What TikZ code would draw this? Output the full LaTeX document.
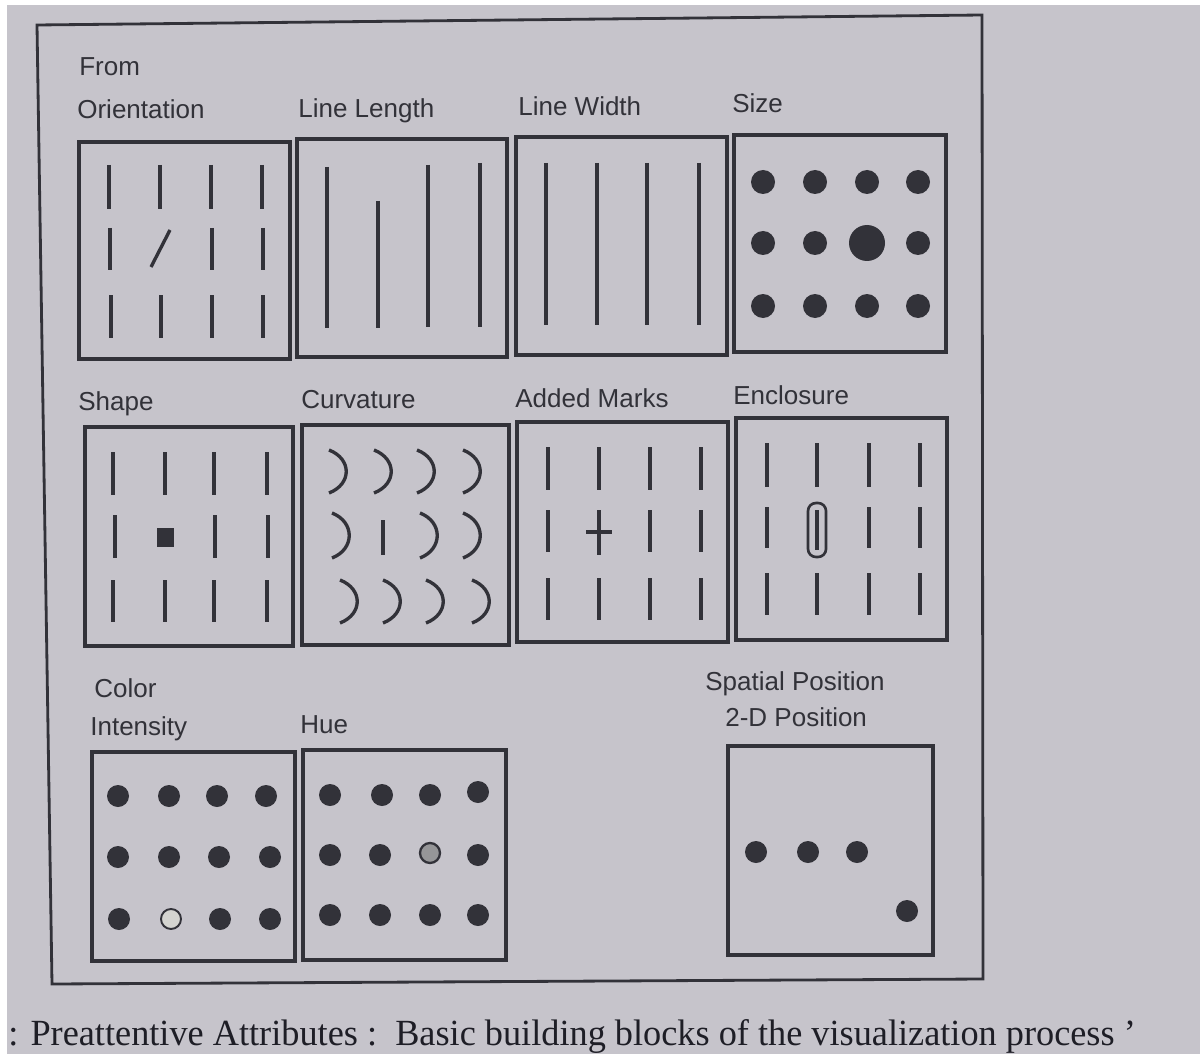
\documentclass[tikz,border=0pt]{standalone}
\usepackage{fontspec}
\setmainfont{Liberation Serif}
\setsansfont{Liberation Sans}
\usepackage{graphicx}
\definecolor{page}{RGB}{198,196,203}
\definecolor{ink}{RGB}{50,50,57}
\definecolor{capink}{RGB}{30,30,38}
\definecolor{pale}{RGB}{212,212,208}
\definecolor{mid}{RGB}{150,150,152}
\tikzset{
  panel/.style={draw=ink, line width=2pt},
  frame/.style={draw=ink, line width=1.6pt},
  bar/.style={draw=ink, line width=1.9pt},
  lbl/.style={anchor=base west, inner sep=0pt, text=ink, font=\sffamily\fontsize{14.8}{17}\selectfont},
  dotc/.style={fill=ink},
}
\newcommand{\carc}[3]{\draw[bar] (#1,#2) .. controls (#1+23,#2+9) and (#1+23,#3-9) .. (#1,#3);}
\begin{document}
\begin{tikzpicture}[x=0.02cm,y=-0.02cm]
\useasboundingbox (0,0) rectangle (1200,1054);
\fill[white] (0,0) rectangle (1200,1054);
\fill[page] (7,5) rectangle (1200,1054);

% outer frame
\draw[frame] (37,25) -- (982,15) -- (983,979) -- (52,984) -- cycle;

% labels
\node[lbl] (from) at (79,76) {From};
\node[lbl] (orient) at (77,119) {Orientation};
\node[lbl] (llen) at (298,118) {Line Length};
\node[lbl] (lwid) at (518,116) {Line Width};
\node[lbl] (size) at (732,113) {Size};
\node[lbl] (shape) at (78,410) {Shape};
\node[lbl] (curv) at (301,408) {Curvature};
\node[lbl] (added) at (515,407) {Added Marks};
\node[lbl] (encl) at (733,404) {Enclosure};
\node[lbl] (color) at (94,697) {Color};
\node[lbl] (inten) at (90,735) {Intensity};
\node[lbl] (hue) at (300,733) {Hue};
\node[lbl] (spat) at (705,690) {Spatial Position};
\node[lbl] (twod) at (725,726) {2-D Position};

% ---- Orientation
\draw[panel] (79,142) rectangle (290,359);
\foreach \x in {109,160,211,262} {\draw[bar] (\x,165) -- (\x,209);}
\foreach \x in {110,212,263} {\draw[bar] (\x,228) -- (\x,270);}
\draw[bar] (151,267) -- (170,230);
\foreach \x in {111,161,212,263} {\draw[bar] (\x,295) -- (\x,338);}

% ---- Line Length
\draw[panel] (297,139) rectangle (507,357);
\draw[bar] (327,167) -- (327,328);
\draw[bar] (378,201) -- (378,328);
\draw[bar] (428,165) -- (428,327);
\draw[bar] (480,163) -- (480,327);

% ---- Line Width
\draw[panel] (516,137) rectangle (727,355);
\foreach \x in {546,597,647,699} {\draw[bar] (\x,163) -- (\x,325);}

% ---- Size
\draw[panel] (734,135) rectangle (946,352);
\foreach \x in {763,815,867,918} {
  \fill[dotc] (\x,182) circle[radius=12];
  \fill[dotc] (\x,306) circle[radius=12];
}
\foreach \x in {763,815,918} {\fill[dotc] (\x,243) circle[radius=12];}
\fill[dotc] (867,243) circle[radius=18];

% ---- Shape
\draw[panel] (85,427) rectangle (293,646);
\foreach \x in {113,165,214,267} {
  \draw[bar] (\x,452) -- (\x,495);
  \draw[bar] (\x,580) -- (\x,622);
}
\foreach \x in {115,215,268} {\draw[bar] (\x,515) -- (\x,558);}
\fill[ink] (157,528) rectangle (174,547);

% ---- Curvature
\draw[panel] (302,425) rectangle (509,645);
\foreach \x in {329,374,417,463} {\carc{\x}{450}{493}}
\foreach \x in {332,420,463} {\carc{\x}{513}{558}}
\draw[bar] (383,520) -- (383,555);
\foreach \x in {340,383,426,472} {\carc{\x}{580}{623}}

% ---- Added Marks
\draw[panel] (517,422) rectangle (728,642);
\foreach \x in {548,599,650,701} {
  \draw[bar] (\x,447) -- (\x,490);
  \draw[bar] (\x,578) -- (\x,620);
}
\foreach \x in {548,650,701} {\draw[bar] (\x,510) -- (\x,552);}
\draw[bar] (599,510) -- (599,555);
\draw[bar] (586,532) -- (612,532);

% ---- Enclosure
\draw[panel] (736,418) rectangle (947,640);
\foreach \x in {767,817,869,920} {
  \draw[bar] (\x,443) -- (\x,487);
  \draw[bar] (\x,573) -- (\x,615);
}
\foreach \x in {767,869,920} {\draw[bar] (\x,507) -- (\x,548);}
\draw[draw=ink, line width=1.5pt, rounded corners=0.16cm] (808,503) rectangle (826,557);
\draw[bar] (817,510) -- (817,550);

% ---- Intensity
\draw[panel] (92,752) rectangle (295,961);
\foreach \x in {118,169,217,266} {\fill[dotc] (\x,796) circle[radius=11];}
\foreach \x in {118,169,219,270} {\fill[dotc] (\x,857) circle[radius=11];}
\foreach \x in {119,220,270} {\fill[dotc] (\x,919) circle[radius=11];}
\draw[fill=pale, draw=ink, line width=1.1pt] (171,919) circle[radius=10];

% ---- Hue
\draw[panel] (303,750) rectangle (506,960);
\foreach \x in {330,382,430} {\fill[dotc] (\x,795) circle[radius=11];}
\fill[dotc] (478,792) circle[radius=11];
\foreach \x in {330,380,478} {\fill[dotc] (\x,855) circle[radius=11];}
\draw[fill=mid, draw=ink, line width=1.3pt] (430,853) circle[radius=10];
\foreach \x in {330,380,430,478} {\fill[dotc] (\x,915) circle[radius=11];}

% ---- Spatial position
\draw[panel] (728,746) rectangle (933,955);
\foreach \x in {756,808,857} {\fill[dotc] (\x,852) circle[radius=11];}
\fill[dotc] (907,911) circle[radius=11];

% caption
\node[anchor=base west, inner sep=0pt, text=capink] (cap) at (8,1045)
  {\resizebox{22.55cm}{\height}{\fontsize{21}{24}\selectfont : Preattentive Attributes :\ \ Basic building blocks of the visualization process \textquoteright}};
\end{tikzpicture}
\end{document}
